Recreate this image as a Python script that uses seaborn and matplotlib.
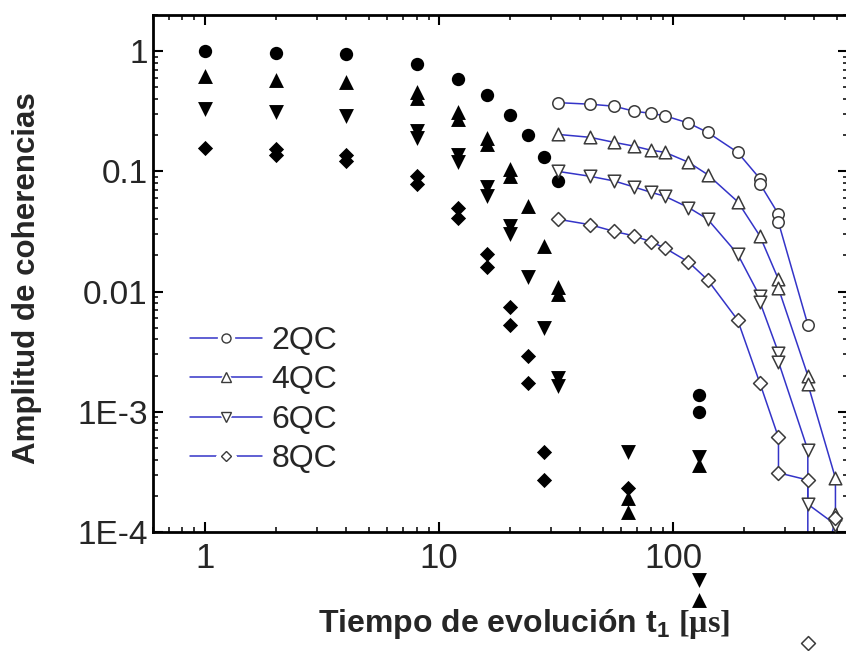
import matplotlib
matplotlib.use("Agg")
import matplotlib.pyplot as plt
import matplotlib.ticker as mticker
from matplotlib.lines import Line2D
from matplotlib.legend_handler import HandlerTuple
import seaborn as sns
import pandas as pd

# ── Data ──────────────────────────────────────────────────────────────────────
# early times, filled black markers
t_fill_2qc = [1, 2, 4, 8, 12, 16, 20, 24, 28, 32, 128, 128]
a_fill_2qc = [1.0, 0.96, 0.94, 0.78, 0.585, 0.43, 0.295, 0.2, 0.131, 0.083, 0.00137, 0.001]

t_fill_4qc = [1, 2, 4, 8, 8, 12, 12, 16, 16, 20, 20, 24, 28, 32, 32, 64, 64, 128, 128]
a_fill_4qc = [0.62, 0.58, 0.555, 0.453, 0.411, 0.31, 0.27, 0.19, 0.168, 0.104, 0.091,
              0.051, 0.024, 0.011, 0.0096, 1.9e-4, 1.46e-4, 3.6e-4, 2.7e-5]

t_fill_6qc = [1, 2, 4, 8, 8, 12, 12, 16, 16, 20, 20, 24, 28, 32, 32, 64, 128, 128]
a_fill_6qc = [0.33, 0.31, 0.29, 0.217, 0.19, 0.138, 0.119, 0.074, 0.062, 0.035, 0.03,
              0.0133, 0.005, 0.0019, 0.00163, 4.6e-4, 4.2e-4, 4.0e-5]

t_fill_8qc = [1, 2, 2, 4, 4, 8, 8, 12, 12, 16, 16, 20, 20, 24, 24, 28, 28, 64]
a_fill_8qc = [0.155, 0.153, 0.136, 0.138, 0.121, 0.092, 0.079, 0.05, 0.041, 0.0205, 0.016,
              0.0074, 0.0053, 0.0029, 0.00173, 4.6e-4, 2.7e-4, 2.3e-4]

# later times, open markers joined by lines
t_open_2qc = [32, 44, 56, 68, 80, 92, 116, 140, 188, 234, 234, 281, 281, 375]
a_open_2qc = [0.373, 0.362, 0.348, 0.316, 0.304, 0.29, 0.252, 0.211, 0.144, 0.087, 0.079,
              0.044, 0.0376, 0.0053]

t_open_4qc = [32, 44, 56, 68, 80, 92, 116, 140, 188, 234, 281, 281, 375, 375, 492, 492]
a_open_4qc = [0.203, 0.192, 0.174, 0.162, 0.150, 0.144, 0.119, 0.094, 0.056, 0.029,
              0.0126, 0.0106, 0.0020, 0.0017, 2.8e-4, 1.4e-4]

t_open_6qc = [32, 44, 56, 68, 80, 92, 116, 140, 188, 234, 234, 281, 281, 375, 375, 492]
a_open_6qc = [0.1, 0.091, 0.083, 0.074, 0.067, 0.062, 0.05, 0.04, 0.0205, 0.0091, 0.0082,
              0.0031, 0.0026, 4.8e-4, 1.7e-4, 1.15e-4]

t_open_8qc = [32, 44, 56, 68, 80, 92, 116, 140, 188, 234, 281, 281, 375, 375, 492]
a_open_8qc = [0.040, 0.036, 0.0316, 0.029, 0.026, 0.023, 0.0176, 0.0125, 0.0058, 0.00173,
              6.1e-4, 3.1e-4, 2.7e-4, 1.2e-5, 1.3e-4]

LABELS = ["2QC", "4QC", "6QC", "8QC"]
Y_TICKS = [1e-4, 1e-3, 1e-2, 1e-1, 1]
Y_TICK_LABELS = ["1E-4", "1E-3", "0.01", "0.1", "1"]
X_TICKS = [1, 10, 100]
X_TICK_LABELS = ["1", "10", "100"]

# ── Style ─────────────────────────────────────────────────────────────────────
sns.set_style("ticks")
plt.rcParams["font.family"] = ["Liberation Sans", "DejaVu Sans"]
plt.rcParams["mathtext.fontset"] = "custom"
plt.rcParams["mathtext.rm"] = "Liberation Serif"
plt.rcParams["mathtext.bf"] = "Liberation Sans:bold"
plt.rcParams["mathtext.sf"] = "Liberation Serif:bold"
plt.rcParams["mathtext.it"] = "Liberation Serif:italic"

BLUE = "#3434c8"
EDGE = "#3a3a3a"
MARKERS = ["o", "^", "v", "D"]
FILL_SIZE = [92, 115, 115, 60]
OPEN_SIZE = [68, 82, 82, 50]

fig = plt.figure(figsize=(8.46, 6.51), dpi=100)
ax = fig.add_axes([0.181, 0.183, 0.821, 0.794])
ax.set_xscale("log")
ax.set_yscale("log")

fills = [(t_fill_2qc, a_fill_2qc), (t_fill_4qc, a_fill_4qc),
         (t_fill_6qc, a_fill_6qc), (t_fill_8qc, a_fill_8qc)]
opens = [(t_open_2qc, a_open_2qc), (t_open_4qc, a_open_4qc),
         (t_open_6qc, a_open_6qc), (t_open_8qc, a_open_8qc)]

for (t, a), m, s in zip(fills, MARKERS, FILL_SIZE):
    df = pd.DataFrame({"t": t, "a": a})
    sns.scatterplot(data=df, x="t", y="a", marker=m, s=s, color="black",
                    linewidth=0, clip_on=False, zorder=3, ax=ax, legend=False)

for (t, a), m, s in zip(opens, MARKERS, OPEN_SIZE):
    df = pd.DataFrame({"t": t, "a": a})
    sns.lineplot(data=df, x="t", y="a", color=BLUE, lw=1.1, sort=False,
                 estimator=None, zorder=2, ax=ax, legend=False)
    sns.scatterplot(data=df, x="t", y="a", marker=m, s=s, color="white",
                    edgecolor=EDGE, linewidth=1.1, clip_on=False, zorder=4,
                    ax=ax, legend=False)

ax.set_xlim(0.6, 555)
ax.set_ylim(1e-4, 2.0)

ax.xaxis.set_major_locator(mticker.FixedLocator(X_TICKS))
ax.xaxis.set_major_formatter(mticker.FixedFormatter(X_TICK_LABELS))
ax.yaxis.set_major_locator(mticker.FixedLocator(Y_TICKS))
ax.yaxis.set_major_formatter(mticker.FixedFormatter(Y_TICK_LABELS))
ax.xaxis.set_minor_locator(mticker.LogLocator(base=10, subs=range(2, 10), numticks=20))
ax.yaxis.set_minor_locator(mticker.LogLocator(base=10, subs=range(2, 10), numticks=20))
ax.xaxis.set_minor_formatter(mticker.NullFormatter())
ax.yaxis.set_minor_formatter(mticker.NullFormatter())

ax.tick_params(which="both", direction="in", top=True, right=True, color="black")
ax.tick_params(which="major", length=7, width=1.5, labelsize=24)
ax.tick_params(which="minor", length=3.6, width=1.1)
ax.tick_params(axis="x", which="major", pad=7.5, labelsize=25)
ax.tick_params(axis="y", which="major", pad=4)
for sp in ax.spines.values():
    sp.set_linewidth(2)
    sp.set_color("black")

ax.set_xlabel(r"Tiempo de evolución $\mathbf{t_1}$ $\mathsf{[µs]}$",
              fontsize=23, fontweight="bold")
ax.set_ylabel("Amplitud de coherencias", fontsize=22.5, fontweight="bold")
ax.xaxis.set_label_coords(0.534, -0.146)
ax.yaxis.set_label_coords(-0.16, 0.49)

# legend: line with a small gap around the marker, as in the original
handles = []
for m, ms in zip(MARKERS, [6.5, 6.5, 6.5, 5.5]):
    line = Line2D([], [], color=BLUE, lw=1.1)
    gap = Line2D([], [], ls="none", marker=m, ms=ms + 5, mfc="white", mec="white")
    mk = Line2D([], [], ls="none", marker=m, ms=ms, mfc="white", mec=EDGE, mew=1)
    handles.append((line, gap, mk))
ax.legend(handles, LABELS, handler_map={tuple: HandlerTuple(ndivide=1, pad=0)},
          loc="center left", bbox_to_anchor=(0.053, 0.255),
          frameon=False, fontsize=23, handlelength=2.25, handletextpad=0.3,
          labelspacing=0.3, borderaxespad=0, borderpad=0)

fig.savefig("out.png", dpi=100)
